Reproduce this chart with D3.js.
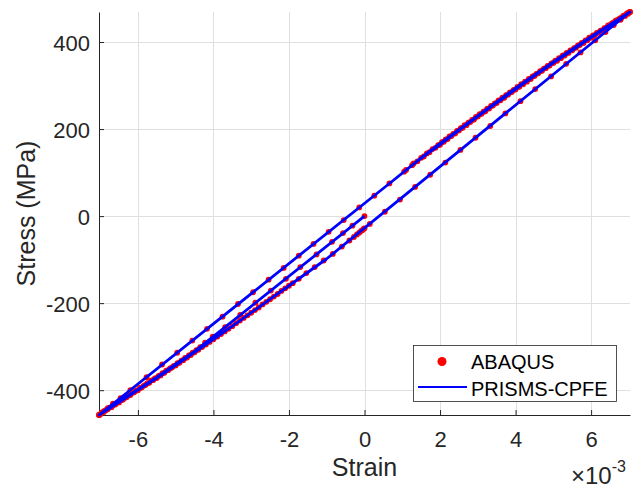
<!DOCTYPE html>
<html>
<head>
<meta charset="utf-8">
<script src="https://cdn.jsdelivr.net/npm/d3@7"></script>
<style>
  html, body { margin: 0; padding: 0; background: #fff; }
  svg { display: block; font-family: "Liberation Sans", Arial, Helvetica, sans-serif; }
</style>
</head>
<body>
<svg id="chart" width="633" height="492"></svg>
<script>
// strain is stored in units of 1e-3 (axis shows x10^-3), stress in MPa
const strainTicks = [-6, -4, -2, 0, 2, 4, 6];
const stressTicks = [-400, -200, 0, 200, 400];
const legendLabels = ["ABAQUS", "PRISMS-CPFE"];

// ABAQUS increments, one array per load step: [strain, stress]
// step 1: 0 -> -7.03e-3
const abaqusStep1 = [[0,0],[-0.32,-22],[-0.57,-39],[-0.86,-59],[-1.27,-88],[-1.7,-117],[-2.08,-144],
  [-2.48,-171],[-2.89,-199],[-3.29,-227],[-3.69,-255],[-4.02,-277],[-4.22,-291],[-4.35,-301],[-4.45,-308],
  [-4.55,-314],[-4.65,-320],[-4.75,-326],[-4.85,-332],[-4.95,-338],[-5.05,-344],[-5.15,-350],[-5.25,-355],
  [-5.35,-361],[-5.45,-367],[-5.55,-373],[-5.65,-378],[-5.75,-384],[-5.85,-390],[-5.95,-395],[-6.05,-401],
  [-6.15,-406],[-6.25,-412],[-6.35,-418],[-6.45,-423],[-6.55,-429],[-6.65,-434],[-6.75,-440],[-6.85,-446],
  [-6.95,-451],[-7.03,-457]];
// step 2: -7.03e-3 -> 7.03e-3
const abaqusStep2 = [[-6.97,-453],[-6.9,-448],[-6.8,-441],[-6.66,-431],[-6.46,-418],[-6.2,-400],[-5.77,-370],
  [-5.36,-341],[-4.96,-314],[-4.56,-286],[-4.17,-259],[-3.76,-231],[-3.35,-202],[-2.95,-175],[-2.54,-146],
  [-2.14,-119],[-1.74,-91],[-1.35,-64],[-0.95,-36],[-0.55,-9],[-0.14,20],[0.26,47],[0.66,75],[1.05,102],
  [1.26,117],[1.4,126],[1.57,137],[1.72,147],[1.88,157],[2.0,164],[2.1,171],[2.2,177],[2.3,184],[2.4,190],
  [2.5,197],[2.6,203],[2.7,209],[2.8,216],[2.9,222],[3.0,229],[3.1,235],[3.2,241],[3.3,247],[3.4,254],
  [3.5,260],[3.6,266],[3.7,272],[3.8,279],[3.9,285],[4.0,291],[4.1,297],[4.2,303],[4.3,309],[4.4,315],
  [4.5,322],[4.6,328],[4.7,334],[4.8,340],[4.9,346],[5.0,352],[5.1,357],[5.2,363],[5.3,369],[5.4,375],
  [5.5,381],[5.6,387],[5.7,393],[5.8,398],[5.9,404],[6.0,410],[6.1,416],[6.2,422],[6.3,427],[6.4,433],
  [6.5,439],[6.6,445],[6.7,451],[6.8,456],[6.9,462],[7.0,468],[7.03,469]];
// step 3: 7.03e-3 -> 0
const abaqusStep3 = [[6.98,465],[6.9,460],[6.78,451],[6.6,439],[6.38,423],[6.11,404],[5.72,376],[5.34,350],
  [4.94,321],[4.52,292],[4.13,264],[3.73,236],[3.33,207],[2.94,180],[2.54,152],[2.14,123],[1.74,95],
  [1.34,67],[0.94,38],[0.54,10],[0.14,-18],[0,-28]];
// step 4: 0 -> -7.03e-3
const abaqusStep4 = [[-0.02,-29],[-0.05,-32],[-0.09,-34],[-0.14,-38],[-0.2,-42],[-0.28,-48],[-0.4,-56],
  [-0.6,-70],[-0.84,-87],[-1.08,-102],[-1.32,-117],[-1.54,-131],[-1.74,-144],[-1.9,-154],[-2.0,-160],
  [-2.1,-166],[-2.2,-172],[-2.3,-179],[-2.4,-185],[-2.5,-191],[-2.6,-197],[-2.7,-203],[-2.8,-210],[-2.9,-216],
  [-3.0,-222],[-3.1,-228],[-3.2,-234],[-3.3,-240],[-3.4,-246],[-3.5,-253],[-3.6,-259],[-3.7,-265],[-3.8,-271],
  [-3.9,-277],[-4.0,-283],[-4.1,-289],[-4.2,-295],[-4.3,-301],[-4.4,-307],[-4.5,-313],[-4.6,-319],[-4.7,-325],
  [-4.8,-331],[-4.9,-337],[-5.0,-343],[-5.1,-348],[-5.2,-354],[-5.3,-360],[-5.4,-366],[-5.5,-372],[-5.6,-377],
  [-5.7,-383],[-5.8,-388],[-5.9,-394],[-6.0,-400],[-6.1,-405],[-6.2,-411],[-6.3,-416],[-6.4,-422],[-6.5,-428],
  [-6.6,-433],[-6.7,-439],[-6.8,-444],[-6.9,-450],[-7.0,-456],[-7.03,-457]];
// step 5: -7.03e-3 -> 7.03e-3 (elastic part coincides with step 2)
const abaqusStep5 = [[1.1,106],[1.3,121],[1.5,134],[1.65,144],[1.8,154],[1.95,163],[2.05,170],[2.15,176],
  [2.25,183],[2.35,189],[2.45,196],[2.55,202],[2.65,209],[2.75,215],[2.85,221],[2.95,228],[3.05,234],
  [3.15,240],[3.25,247],[3.35,253],[3.45,259],[3.55,266],[3.65,272],[3.75,278],[3.85,284],[3.95,290],
  [4.05,297],[4.15,303],[4.25,309],[4.35,315],[4.45,321],[4.55,327],[4.65,333],[4.75,339],[4.85,345],
  [4.95,351],[5.05,357],[5.15,363],[5.25,369],[5.35,375],[5.45,381],[5.55,386],[5.65,392],[5.75,398],
  [5.85,404],[5.95,410],[6.05,415],[6.15,421],[6.25,426],[6.35,432],[6.45,438],[6.55,443],[6.65,449],
  [6.75,454],[6.85,460],[6.95,466],[7.03,469]];

// PRISMS-CPFE response, same load steps
const cpfeStep1 = [[0,0],[-4.2,-290],[-4.5,-311],[-5,-340],[-5.5,-370],[-6,-398],[-6.5,-426],[-7.03,-457]];
const cpfeStep2 = [[-7.03,-457],[0.66,75],[1.05,102],[1.4,126],[1.72,147],[2,164],[2.5,197],[3,229],
  [3.5,260],[4,291],[4.5,322],[5,352],[5.5,381],[6,410],[6.5,439],[7.03,469]];
const cpfeStep3 = [[7.03,469],[-1,-98],[-1.5,-129],[-2,-160],[-2.5,-191],[-3,-222],[-3.5,-253],[-4,-283],
  [-4.5,-313],[-5,-343],[-5.5,-372],[-6,-400],[-6.5,-428],[-7.03,-457]];
const cpfeStep4 = [[-7.03,-457],[0.66,75],[1.1,106],[1.5,134],[1.8,154],[2.05,170],[3.05,234],[4.05,297],
  [5.05,357],[6.05,415],[6.55,443],[7.03,469]];

const abaqusPoints = [abaqusStep1, abaqusStep2, abaqusStep3, abaqusStep4, abaqusStep5].flat();
const cpfePath = [cpfeStep1, cpfeStep2, cpfeStep3, cpfeStep4];

const axisColor = "#262626";
const plotLeft = 99, plotRight = 630, plotTop = 12, plotBottom = 415;

const svg = d3.select("#chart");
svg.append("rect").attr("width", 633).attr("height", 492).attr("fill", "#fff");

const x = d3.scaleLinear().domain([-7.03, 7.03]).range([plotLeft, plotRight]);
const y = d3.scaleLinear().domain([-457, 469]).range([plotBottom, plotTop]);

// grid
const grid = svg.append("g").attr("stroke", "#dfdfdf").attr("stroke-width", 1);
grid.selectAll(".gx").data(strainTicks).join("line")
  .attr("x1", d => Math.round(x(d)) + 0.5).attr("x2", d => Math.round(x(d)) + 0.5)
  .attr("y1", plotTop).attr("y2", plotBottom);
grid.selectAll(".gy").data(stressTicks).join("line")
  .attr("y1", d => Math.round(y(d)) + 0.5).attr("y2", d => Math.round(y(d)) + 0.5)
  .attr("x1", plotLeft).attr("x2", plotRight);

// axes (box off, ticks pointing inward)
const fmt = d => String(d);
const xAxis = svg.append("g").attr("transform", `translate(0,${plotBottom})`)
  .call(d3.axisBottom(x).tickValues(strainTicks).tickFormat(fmt).tickSizeInner(-5).tickSizeOuter(0).tickPadding(16));
const yAxis = svg.append("g").attr("transform", `translate(${plotLeft},0)`)
  .call(d3.axisLeft(y).tickValues(stressTicks).tickFormat(fmt).tickSizeInner(-5).tickSizeOuter(0).tickPadding(9));
[xAxis, yAxis].forEach(g => {
  g.select(".domain").attr("stroke", axisColor).attr("stroke-width", 1);
  g.selectAll(".tick line").attr("stroke", axisColor);
  g.selectAll(".tick text").attr("fill", axisColor).style("font-size", "22px")
    .style("font-family", '"Liberation Sans", Arial, sans-serif');
});
yAxis.selectAll(".tick text").attr("dy", "0.37em");

// ABAQUS markers
svg.append("g").attr("fill", "#ff0000")
  .selectAll("circle").data(abaqusPoints).join("circle")
  .attr("cx", d => x(d[0])).attr("cy", d => y(d[1])).attr("r", 2.9);

// PRISMS-CPFE line
const line = d3.line().x(d => x(d[0])).y(d => y(d[1]));
svg.append("path")
  .datum(cpfePath.flat())
  .attr("d", line)
  .attr("fill", "none").attr("stroke", "#0000ff").attr("stroke-width", 2.8)
  .attr("stroke-linejoin", "round");

// axis labels
svg.append("text").attr("x", (plotLeft + plotRight) / 2).attr("y", 476)
  .attr("text-anchor", "middle").attr("fill", axisColor).style("font-size", "25px").text("Strain");
svg.append("text").attr("transform", `translate(35,${(plotTop + plotBottom) / 2}) rotate(-90)`)
  .attr("text-anchor", "middle").attr("fill", axisColor).style("font-size", "25px").text("Stress (MPa)");
const mult = svg.append("text").attr("x", 571).attr("y", 484).attr("fill", axisColor).style("font-size", "24px");
mult.append("tspan").text("\u00d710");
mult.append("tspan").attr("dy", -12).style("font-size", "16px").text("-3");

// legend
const lg = svg.append("g");
lg.append("rect").attr("x", 413.5).attr("y", 345.5).attr("width", 203).attr("height", 56)
  .attr("fill", "#fff").attr("stroke", axisColor).attr("stroke-width", 0.8);
lg.append("circle").attr("cx", 442).attr("cy", 361.5).attr("r", 4.5).attr("fill", "#ff0000");
lg.append("line").attr("x1", 418).attr("x2", 467).attr("y1", 387).attr("y2", 387)
  .attr("stroke", "#0000ff").attr("stroke-width", 2.2);
lg.selectAll(".lt").data(legendLabels).join("text")
  .attr("x", 471).attr("y", (d, i) => 368.5 + i * 27)
  .attr("fill", "#000").style("font-size", "20px").text(d => d);
</script>
</body>
</html>
